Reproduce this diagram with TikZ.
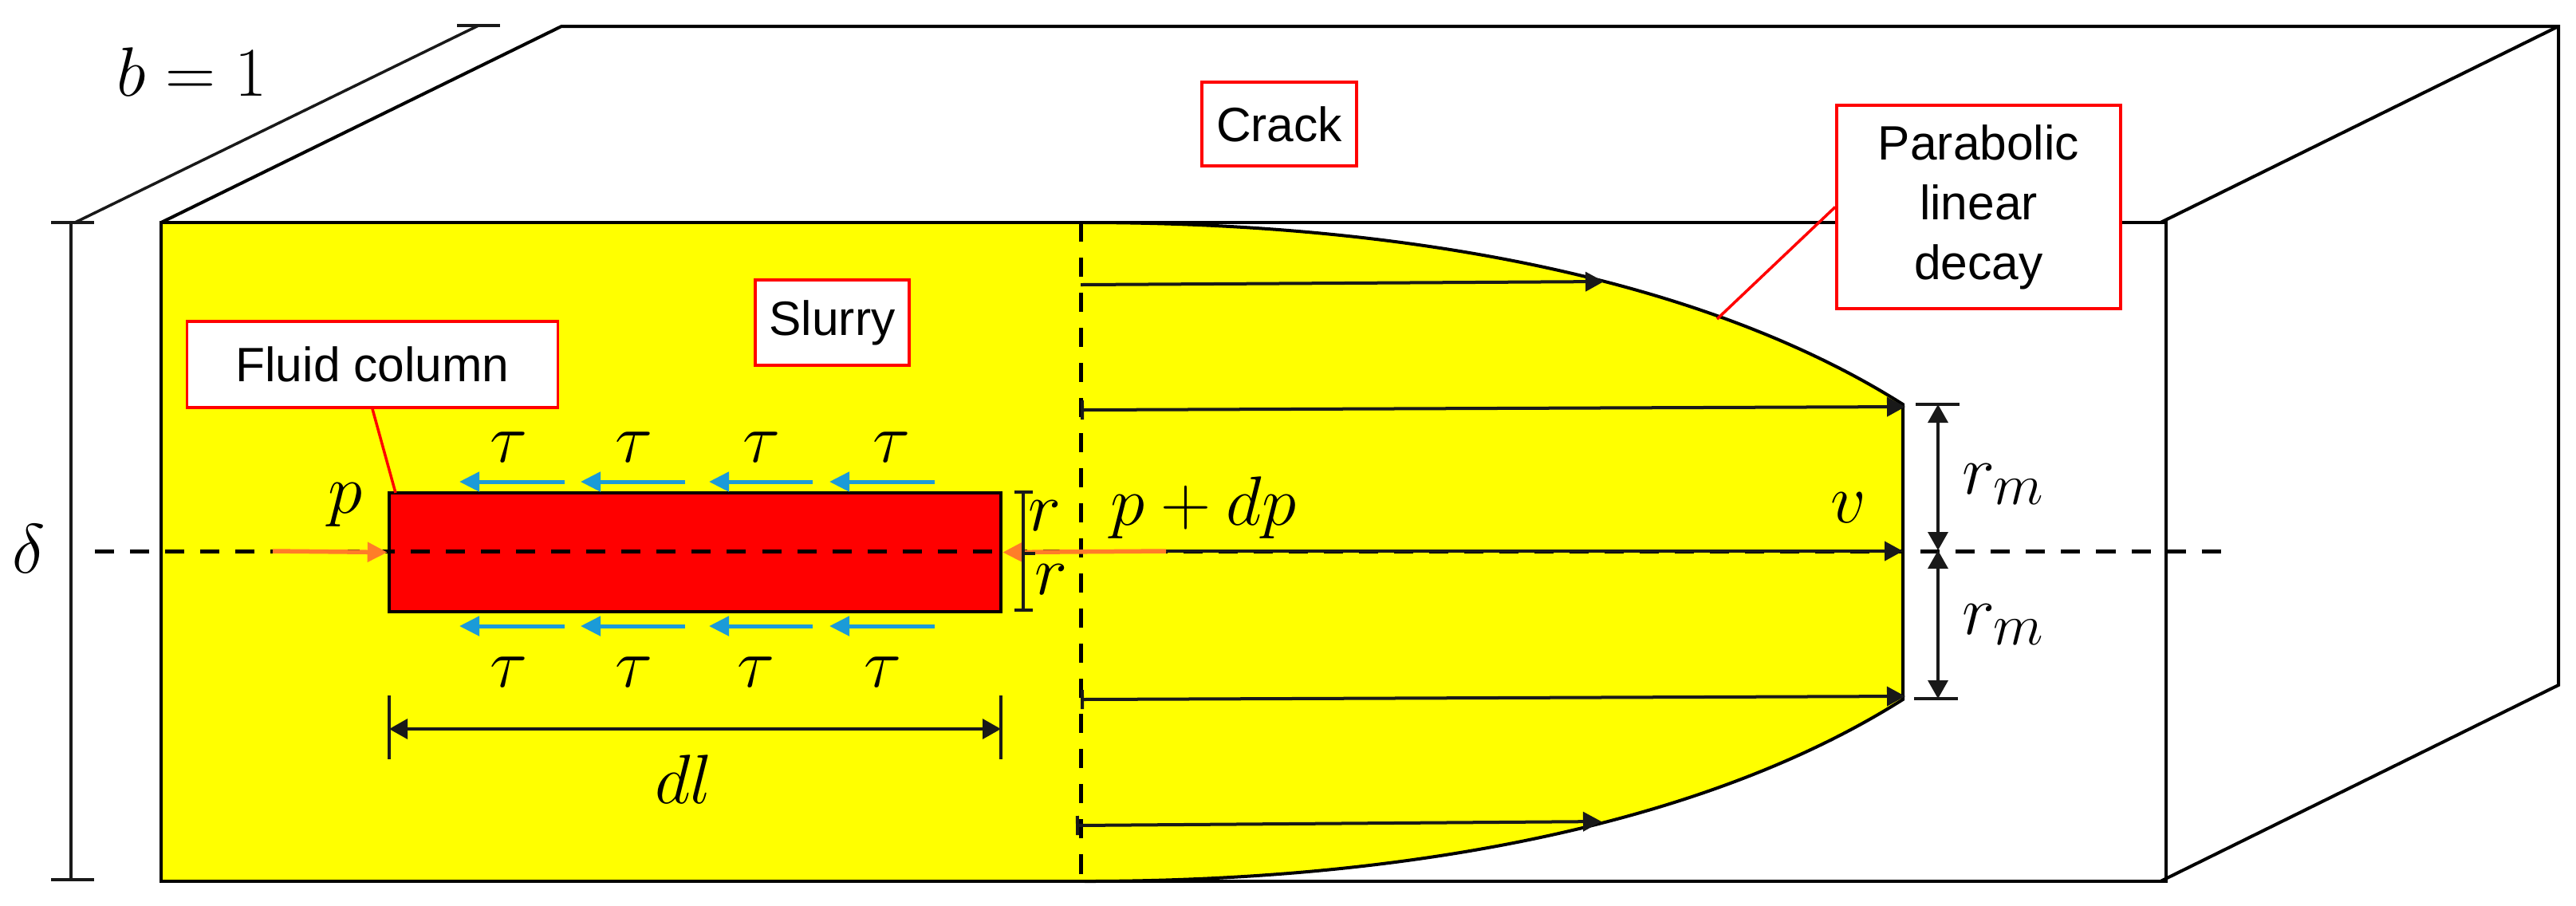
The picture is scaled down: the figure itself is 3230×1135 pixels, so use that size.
\documentclass[tikz,border=0pt]{standalone}
\usepackage{amsmath}
\usepackage{fontspec}
\newfontfamily\calloutfont{Liberation Sans}
\usetikzlibrary{arrows.meta}
\definecolor{slurryyellow}{RGB}{255,255,0}
\definecolor{columnred}{RGB}{255,0,0}
\definecolor{shearblue}{RGB}{27,155,216}
\definecolor{pressorange}{RGB}{255,125,40}
\tikzset{
  boxline/.style={line width=0.04cm,black},
  dimline/.style={line width=0.035cm,black!90},
  dashline/.style={line width=0.05cm,black,dash pattern=on 0.24cm off 0.20cm},
  vel/.style={line width=0.04cm,black!90,-{Stealth[inset=0pt,length=0.23cm,width=0.24cm]}},
  velbar/.style={line width=0.04cm,black!90,{Bar[width=0.24cm]}-{Stealth[inset=0pt,length=0.23cm,width=0.24cm]}},
  dimarrow/.style={dimline,{Stealth[inset=0pt,length=0.23cm,width=0.25cm]}-{Stealth[inset=0pt,length=0.23cm,width=0.25cm]}},
  shear/.style={line width=0.05cm,shearblue,-{Stealth[inset=0pt,length=0.25cm,width=0.24cm]}},
  press/.style={line width=0.055cm,pressorange,-{Stealth[inset=0pt,length=0.25cm,width=0.24cm]}},
  callout/.style={draw=columnred,line width=0.035cm,fill=white,inner sep=0pt,align=center,
    font=\calloutfont\fontsize{17.2}{21.3}\selectfont},
  leader/.style={columnred,line width=0.035cm},
  mathlabel/.style={inner sep=0pt,font=\fontsize{24.88}{30}\selectfont}
}
\begin{document}
\begin{tikzpicture}[x=0.01cm,y=-0.01cm]
\useasboundingbox (0,0) rectangle (3230,1135);
% slurry with parabolic front
\fill[slurryyellow] (202,279) -- (1360,279) .. controls (1750,279) and (2130,345) .. (2386,507)
  -- (2386,877) .. controls (2130,1039) and (1750,1105) .. (1360,1105) -- (202,1105) -- cycle;
\draw[boxline] (1360,279) .. controls (1750,279) and (2130,345) .. (2386,507) -- (2386,877)
  .. controls (2130,1039) and (1750,1105) .. (1360,1105);
% block
\draw[boxline] (202,1105) -- (202,279) -- (2716,279) -- (2716,1105) -- cycle;
\draw[boxline] (202,279) -- (704,33) -- (3208,33) -- (3208,859) -- (2709,1105);
\draw[boxline] (2709,279) -- (3208,33);
% dimensions b and delta
\draw[dimline] (94,279) -- (600,32);
\draw[dimline] (573,32) -- (627,32);
\draw[dimline] (64,279) -- (118,279);
\draw[dimline] (64,1103) -- (118,1103);
\draw[dimline] (89,279) -- (89,1103);
\node[mathlabel] (bwidth) at (241,90) {$b=1$};
\node[mathlabel] (delta) at (36,688) {$\delta$};
% fluid column
\node[draw=black,line width=0.04cm,fill=columnred,inner sep=0pt,minimum width=7.67cm,minimum height=1.49cm] (column) at (871.5,692.5) {};
\draw[dashline] (119,691) -- (2792,691);
\draw[dashline] (1355,279) -- (1355,1105);
% velocity profile
\draw[vel] (1355,357) -- (2011,353);
\draw[velbar] (1355,514) -- (2389,510);
\draw[vel] (1355,691) -- (2386,691);
\draw[velbar] (1355,877) -- (2389,873);
\draw[velbar] (1349,1035) -- (2008,1030);
\node[mathlabel] (vlabel) at (2318,637) {$v$};
% end pressures
\coordinate (pleftend) at (342,691);
\coordinate (pright) at (1462,691);
\draw[press] (pleftend) -- (column.west);
\draw[press] (pright) -- (column.east);
\node[mathlabel] (pleft) at (433,633) {$p$};
\node[mathlabel] (pplus) at (1509,637) {$p+dp$};
% shear stress
\foreach \xa/\xb/\xc/\xd in {708/576/638/638,859/728/795/795,1019/889/955/948,1172/1040/1118/1107}{
  \draw[shear] (\xa,604) -- (\xb,604);
  \draw[shear] (\xa,785) -- (\xb,785);
  \node[mathlabel] (tautop\xc) at (\xc,561) {$\tau$};
  \node[mathlabel] (taubot\xd) at (\xd,843) {$\tau$};
}
% r and dl
\draw[dimline] (1272,617) -- (1295,617);
\draw[dimline] (1272,765) -- (1295,765);
\draw[dimline] (1283,694) -- (1298,694);
\draw[dimline] (1283,617) -- (1283,765);
\node[mathlabel] (rtop) at (1310,647) {$r$};
\node[mathlabel] (rbot) at (1318,727) {$r$};
\draw[dimline] (488,872) -- (488,952);
\draw[dimline] (1255,872) -- (1255,952);
\draw[dimarrow] (488,914) -- (1255,914);
\node[mathlabel] (dl) at (857,977) {$dl$};
% r_m
\draw[dimline] (2402,507) -- (2457,507);
\draw[dimline] (2400,876) -- (2455,876);
\draw[dimarrow] (2430,507) -- (2430,690);
\draw[dimarrow] (2430,690) -- (2430,876);
\node[mathlabel] (rmtop) at (2512,607) {$r_m$};
\node[mathlabel] (rmbot) at (2512,783) {$r_m$};
% callouts
\node[callout,minimum width=4.65cm,minimum height=1.08cm] (fluid) at (467,457) {Fluid column};
\node[callout,minimum width=1.93cm,minimum height=1.07cm] (slurry) at (1043.5,404.5) {Slurry};
\node[callout,minimum width=1.94cm,minimum height=1.05cm] (crack) at (1604,155.5) {Crack};
\node[callout,minimum width=3.56cm,minimum height=2.55cm] (decay) at (2481,259.5) {Parabolic\\linear\\decay};
\coordinate (fluidend) at (496,618);
\coordinate (decayend) at (2153,400);
\draw[leader] (fluid.south) -- (fluidend);
\draw[leader] (decay.west) -- (decayend);
\end{tikzpicture}
\end{document}
